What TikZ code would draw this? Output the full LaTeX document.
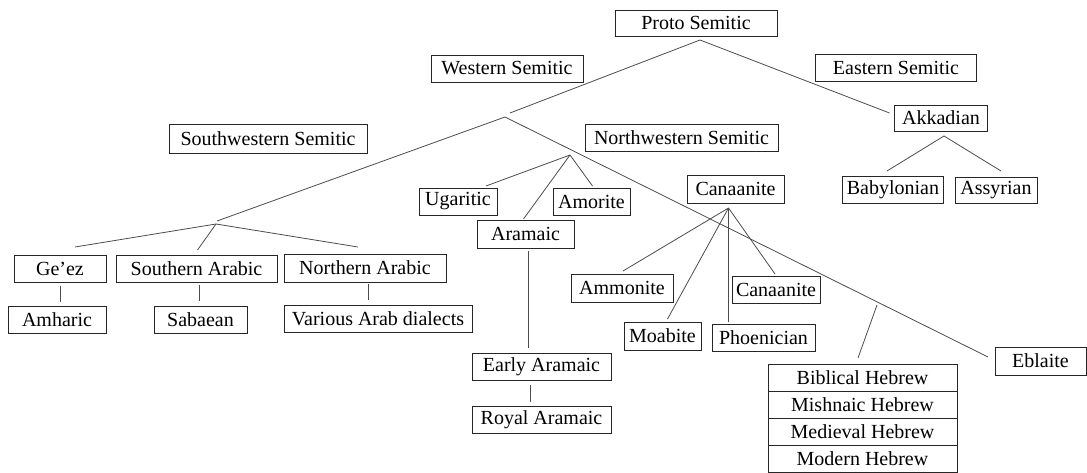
\documentclass[tikz,border=0pt]{standalone}
\usepackage{fontspec}
\setmainfont{Liberation Serif}
\usetikzlibrary{positioning}
\colorlet{boxcol}{black!85}
\colorlet{branchcol}{black!70}
\tikzset{
  lang/.style={draw=boxcol, line width=0.9pt, inner sep=0pt, outer sep=0pt,
    minimum height=27pt, font=\fontsize{20pt}{24pt}\selectfont},
  branch/.style={draw=branchcol, line width=0.8pt}
}

\begin{document}
\begin{tikzpicture}[x=1pt, y=-1pt]

  \useasboundingbox (0,0) rectangle (1087,473);

  % Root and the two main branches.
  \node[lang, minimum width=162pt, minimum height=26pt] (proto) at (696,23) {Proto Semitic};
  \node[lang, minimum width=152pt] (western) at (507,68.5) {Western Semitic};
  \node[lang, minimum width=161pt] (eastern) at (896,67.5) {Eastern Semitic};

  % Eastern side.
  \node[lang, minimum width=93pt, minimum height=26pt] (akkadian) at (941,118) {Akkadian};
  \node[lang, minimum width=101pt] (babylonian) at (893,189.5) {Babylonian};
  \node[lang, minimum width=82pt, minimum height=26pt] (assyrian) at (996,190) {Assyrian};

  % Western side labels.
  \node[lang, minimum width=198pt, minimum height=29pt] (southwest) at (268,138.5) {Southwestern Semitic};
  \node[lang, minimum width=193pt] (northwest) at (681.5,137.5) {Northwestern Semitic};

  % Southwestern languages.
  \node[lang, minimum width=92pt] (geez) at (60,268.5) {Ge’ez};
  \node[lang, minimum width=161pt] (sarabic) at (196.5,268.5) {Southern Arabic};
  \node[lang, minimum width=162pt, minimum height=28pt] (narabic) at (365,268) {Northern Arabic};
  \node[lang, minimum width=98pt] (amharic) at (57,319.5) {Amharic};
  \node[lang, minimum width=93pt] (sabaean) at (200.5,319.5) {Sabaean};
  \node[lang, minimum width=188pt] (dialects) at (378,318.5) {Various Arab dialects};

  % Northwestern languages.
  \node[lang, minimum width=78pt] (ugaritic) at (458,201.5) {Ugaritic};
  \node[lang, minimum width=77pt] (amorite) at (591.5,201.5) {Amorite};
  \node[lang, minimum width=97pt, minimum height=28pt] (aramaic) at (525.5,234) {Aramaic};
  \node[lang, minimum width=139pt] (early) at (541.5,366.5) {Early Aramaic};
  \node[lang, minimum width=139pt] (royal) at (541.5,419.5) {Royal Aramaic};

  % Canaanite group.
  \node[lang, minimum width=97pt, minimum height=28pt] (canaan) at (735.5,189) {Canaanite};
  \node[lang, minimum width=102pt, minimum height=28pt] (ammonite) at (622,288) {Ammonite};
  \node[lang, minimum width=88pt] (canaanb) at (776,289.5) {Canaanite};
  \node[lang, minimum width=77pt, minimum height=28pt] (moabite) at (662.5,336) {Moabite};
  \node[lang, minimum width=103pt] (phoenician) at (763.5,337.5) {Phoenician};

  % Hebrew stack and Eblaite.
  \node[lang, minimum width=189pt] (biblical) at (862.5,377.5) {Biblical Hebrew};
  \node[lang, minimum width=189pt, below=0pt of biblical] (mishnaic) {Mishnaic Hebrew};
  \node[lang, minimum width=189pt, below=0pt of mishnaic] (medieval) {Medieval Hebrew};
  \node[lang, minimum width=189pt, below=0pt of medieval] (modern) {Modern Hebrew};
  \node[lang, minimum width=91pt, minimum height=28pt] (eblaite) at (1040.5,361) {Eblaite};

  % Junctions.
  \coordinate (protoj) at ([xshift=4pt,yshift=-4pt]proto.south);
  \coordinate (westtop) at (510,113);
  \coordinate (westj) at (505,117);
  \coordinate (swtop) at (217,221);
  \coordinate (swj) at (216,224);
  \coordinate (nwj) at (570,155);
  \coordinate (canj) at ([xshift=-7pt,yshift=-5pt]canaan.south);
  \coordinate (akkj) at ([xshift=3pt,yshift=-5pt]akkadian.south);
  \coordinate (hebtop) at (877,305);

  % Main split.
  \draw[branch] (protoj) -- (westtop);
  \draw[branch] (protoj) -- ([xshift=-5pt,yshift=5pt]akkadian.west);
  \draw[branch] (westj) -- (swtop);
  \draw[branch] (westj) -- ([xshift=-7pt,yshift=4pt]eblaite.west);

  % Akkadian.
  \draw[branch] (akkj) -- ([xshift=-6pt,yshift=5pt]babylonian.north);
  \draw[branch] (akkj) -- ([xshift=5pt,yshift=6pt]assyrian.north);

  % Southwestern.
  \draw[branch] (swj) -- ([xshift=15pt,yshift=8pt]geez.north);
  \draw[branch] (swj) -- ([xshift=1pt,yshift=5pt]sarabic.north);
  \draw[branch] (swj) -- ([xshift=-7pt,yshift=7pt]narabic.north);
  \draw[branch] ([yshift=-4pt]geez.south) -- ([yshift=4pt]geez.south |- amharic.north);
  \draw[branch] ([xshift=3pt,yshift=-3pt]sarabic.south) -- ([xshift=3pt,yshift=5pt]sarabic.south |- sabaean.north);
  \draw[branch] ([xshift=3pt,yshift=-2pt]narabic.south) -- ([xshift=3pt,yshift=5pt]narabic.south |- dialects.north);

  % Northwestern.
  \draw[branch] (nwj) -- ([xshift=28pt,yshift=2pt]ugaritic.north);
  \draw[branch] (nwj) -- ([xshift=-2pt,yshift=1pt]aramaic.north);
  \draw[branch] (nwj) -- ([xshift=1pt,yshift=2pt]amorite.north);
  \draw[branch] ([xshift=3pt,yshift=-3pt]aramaic.south) -- ([xshift=3pt,yshift=5pt]aramaic.south |- early.north);
  \draw[branch] ([xshift=-11pt,yshift=-5pt]early.south) -- ([xshift=-11pt,yshift=4pt]royal.north);

  % Canaanite.
  \draw[branch] (canj) -- ([xshift=1pt,yshift=3pt]ammonite.north);
  \draw[branch] (canj) -- ([xshift=5pt,yshift=3pt]moabite.north);
  \draw[branch] (canj) -- ([yshift=2pt]canj |- phoenician.north);
  \draw[branch] (canj) -- ([xshift=-1pt,yshift=2pt]canaanb.north);

  % Hebrew.
  \draw[branch] (hebtop) -- ([xshift=-4.5pt,yshift=6pt]biblical.north);

\end{tikzpicture}
\end{document}
